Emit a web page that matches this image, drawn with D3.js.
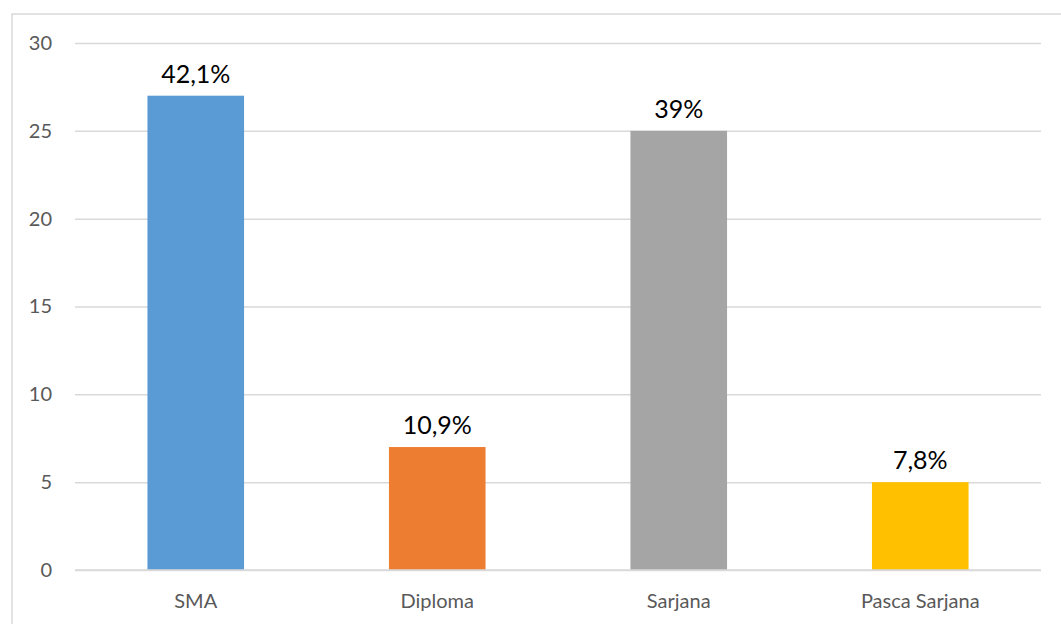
<!DOCTYPE html>
<html><head><meta charset="utf-8">
<script src="https://cdn.jsdelivr.net/npm/d3@7"></script>
<style>body{margin:0;background:#fff;}svg{display:block;}</style>
</head><body>
<svg id="chart" width="1061" height="624"></svg>
<script>
const categories = ["SMA", "Diploma", "Sarjana", "Pasca Sarjana"];
const values = [27, 7, 25, 5];
const labels = ["42,1%", "10,9%", "39%", "7,8%"];
const colors = ["#5B9BD5", "#ED7D31", "#A5A5A5", "#FFC000"];
const yTicks = [0, 5, 10, 15, 20, 25, 30];

const svg = d3.select("#chart");
const font = "Lato, 'Open Sans', sans-serif";

svg.append("rect").attr("x", 12).attr("y", 14).attr("width", 1070).attr("height", 640)
  .attr("fill", "#fff").attr("stroke", "#D9D9D9").attr("stroke-width", 1.5);

const x = d3.scaleBand().domain(categories).range([75, 1041]).paddingInner(0.6).paddingOuter(0.3);
const y = d3.scaleLinear().domain([0, 30]).range([570, 43]);

const yAxis = svg.append("g").attr("transform", "translate(75,0)")
  .call(d3.axisLeft(y).tickValues(yTicks).tickSize(-966).tickPadding(23).tickFormat(d3.format("d")));
yAxis.select(".domain").remove();
yAxis.selectAll("line").attr("stroke", "#D9D9D9").attr("stroke-width", 1.5);
yAxis.selectAll("text").attr("fill", "#595959").style("font-family", font).style("font-size", "20px");

svg.append("g").selectAll("rect").data(values).join("rect")
  .attr("x", (d, i) => x(categories[i]))
  .attr("width", x.bandwidth())
  .attr("y", d => y(d))
  .attr("height", d => y(0) - y(d))
  .attr("fill", (d, i) => colors[i]);

// redraw zero line on top
svg.append("line").attr("x1", 75).attr("x2", 1041).attr("y1", y(0)).attr("y2", y(0))
  .attr("stroke", "#D9D9D9").attr("stroke-width", 1.5);

svg.append("g").selectAll("text").data(values).join("text")
  .attr("x", (d, i) => x(categories[i]) + x.bandwidth() / 2)
  .attr("y", d => y(d) - 13)
  .attr("text-anchor", "middle")
  .attr("fill", "#000")
  .style("font-family", font).style("font-size", "25px")
  .text((d, i) => labels[i]);

const xAxis = svg.append("g").attr("transform", "translate(0,570)")
  .call(d3.axisBottom(x).tickSize(0).tickPadding(24));
xAxis.select(".domain").remove();
xAxis.selectAll("text").attr("fill", "#595959").style("font-family", font).style("font-size", "20px");
</script>
</body></html>
